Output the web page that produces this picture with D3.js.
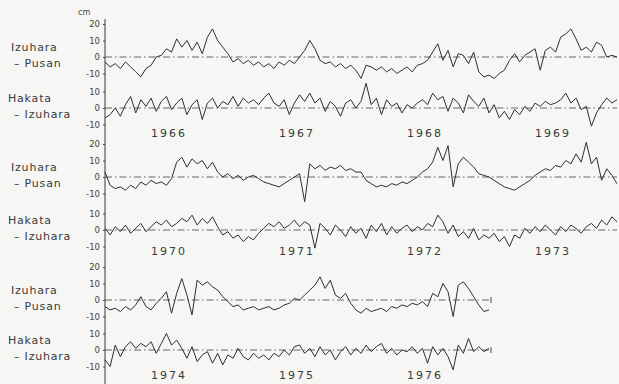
<!DOCTYPE html>
<html>
<head>
<meta charset="utf-8">
<script src="https://cdn.jsdelivr.net/npm/d3@7"></script>
<style>
  body { margin: 0; background: #f6f6f4; }
  svg { display: block; font-family: "DejaVu Sans", sans-serif; }
</style>
</head>
<body>
<div id="visualization"></div>
<script>
// Sea level differences (cm), one value every 0.04 yr
const izuPusan6669 = [
  -3,-6,-4,-7,-3,-6,-9,-12,-7,-5, 0,1,5,3,11,6,10,4,9,2,
  12,17,10,6,2,-3,-1,-4,-2,-5, -3,-6,-4,-7,-3,-5,-2,-4,0,4,
  10,5,-2,-4,-3,-6,-4,-7,-5,-8, -13,-5,-6,-8,-6,-9,-7,-10,-8,-6,
  -9,-5,-4,-2,3,8,-2,4,-6,2, 1,-4,3,-9,-12,-11,-13,-10,-8,-2,
  2,-3,1,3,5,-8,4,6,3,12, 14,17,11,4,6,3,9,7,0,1, 0
];
const hakIzu6669 = [
  -6,-4,0,-5,2,7,-3,5,1,6, -2,4,7,-1,3,6,-4,2,5,-7,
  3,6,0,4,2,7,1,6,3,5, 2,6,9,3,1,5,-4,3,8,4,
  9,3,6,-2,4,1,-5,3,5,0, 4,15,2,6,-4,5,1,3,-3,2,
  0,3,5,2,9,5,7,-2,6,3, -3,8,4,1,6,-3,2,-6,-2,-7,
  -1,-4,1,-2,3,1,4,2,3,5, 9,3,6,-1,1,-11,-3,2,6,3, 5
];
const izuPusan7073 = [
  3,-5,-7,-6,-8,-5,-7,-3,-5,-2, -4,-3,-5,-1,9,12,6,11,8,10,
  5,9,3,0,2,-1,1,-2,0,1, -1,-3,-4,-5,-6,-4,-2,0,2,-15,
  8,5,7,4,6,5,7,4,5,3, 3,-2,-4,-6,-5,-6,-4,-5,-3,-4,
  -2,0,3,5,9,18,10,19,-6,8, 12,9,6,2,1,0,-2,-4,-6,-7,
  -8,-6,-4,-2,1,3,5,4,7,6, 10,8,14,9,21,8,12,-2,5,1, -4
];
const hakIzu7073 = [
  1,-3,2,-1,3,-2,1,4,-1,2, 5,3,6,2,4,7,5,9,3,7,
  4,8,2,-3,-1,-5,-3,-7,-4,-6, -2,1,4,2,5,1,3,6,2,5,
  3,-11,4,1,-3,3,0,-4,2,-2, 1,-5,3,-1,4,-3,2,-2,1,3,
  -1,2,0,4,2,9,5,-2,3,-4, -1,-5,1,-6,-3,-5,-2,-7,-4,-10,
  -3,-5,1,-2,2,-1,3,0,-3,2, -1,3,1,-2,2,4,1,6,3,8, 5
];
const izuPusan7476 = [
  -4,-6,-5,-7,-4,-6,-3,2,-4,-6, -2,1,5,-8,4,13,3,-9,12,9,
  11,8,6,2,-1,-4,-3,-6,-5,-4, -6,-5,-4,-6,-5,-3,-2,1,0,3,
  6,9,14,7,12,3,1,4,-2,-6, -8,-5,-7,-6,-5,-7,-4,-5,-3,-4,
  -2,-3,-1,-4,4,2,10,5,-10,9, 11,7,2,-3,-7,-6
];
const hakIzu7476 = [
  -6,-10,3,-4,2,5,1,4,2,5, -2,4,10,3,6,1,-5,2,-7,-3,
  -1,-8,-2,-9,-3,-5,1,-4,-6,-2, -5,-3,-6,-2,-4,0,-3,2,3,-2,
  1,-4,2,-3,0,-6,-1,2,-3,1, -2,3,-1,2,4,-2,1,-3,0,-1,
  2,-2,1,-8,2,-3,1,-4,-12,3, -2,7,-1,2,-1,1
];

const blockStarts = [1966, 1970, 1974];
const blockYears = [
  [1966, 1967, 1968, 1969],
  [1970, 1971, 1972, 1973],
  [1974, 1975, 1976]
];
const topTicks = [20, 10, 0, -10];
const lowTicks = [10, 0, -10];
const step = 0.04;

const width = 619, height = 384;
const axisX = 105, pxPerYear = 128, pxPerCm = 1.65;

// zero line position of each pair of rows
const blocks = [
  { start: 1966, years: blockYears[0], zeros: [57, 108], series: [izuPusan6669, hakIzu6669], yearY: 137 },
  { start: 1970, years: blockYears[1], zeros: [177, 230], series: [izuPusan7073, hakIzu7073], yearY: 255 },
  { start: 1974, years: blockYears[2], zeros: [300, 350], series: [izuPusan7476, hakIzu7476], yearY: 379 }
];

const svg = d3.select("#visualization")
  .append("svg")
  .attr("width", width)
  .attr("height", height);

svg.append("rect").attr("width", width).attr("height", height).attr("fill", "#f6f6f4");

// unit
svg.append("text")
  .attr("x", 78).attr("y", 15)
  .style("font-size", "8px").attr("fill", "#444")
  .text("cm");

// the one vertical axis line
svg.append("line")
  .attr("x1", axisX).attr("x2", axisX)
  .attr("y1", 19).attr("y2", height)
  .attr("stroke", "#3a3a3a").attr("stroke-width", 1);

const rowNames = [["Izuhara", "– Pusan"], ["Hakata", "– Izuhara"]];

blocks.forEach(b => {
  const nYears = b.years.length;
  const x = d3.scaleLinear()
    .domain([b.start, b.start + 4])
    .range([axisX, axisX + 4 * pxPerYear]);
  const xEnd = x(b.start + nYears);

  b.series.forEach((vals, r) => {
    const zero = b.zeros[r];
    const y = d3.scaleLinear().domain([-10, 10]).range([zero + 10 * pxPerCm, zero - 10 * pxPerCm]);

    // tick labels
    const ax = svg.append("g")
      .attr("transform", `translate(${axisX},0)`)
      .call(d3.axisLeft(y)
        .tickValues(r === 0 ? topTicks : lowTicks)
        .tickSize(2).tickPadding(3)
        .tickFormat(d => String(d)));
    ax.select(".domain").remove();
    ax.selectAll("line").attr("stroke", "#444");
    ax.selectAll("text").style("font-size", "8.5px").style("font-family", "DejaVu Sans, sans-serif").attr("fill", "#444");

    // dash-dot zero line
    svg.append("line")
      .attr("x1", axisX).attr("x2", Math.min(xEnd, width))
      .attr("y1", y(0)).attr("y2", y(0))
      .attr("stroke", "#555").attr("stroke-width", 0.9)
      .attr("stroke-dasharray", "7,3,1.5,3");
    if (nYears < 4) {
      svg.append("line")
        .attr("x1", xEnd + 2).attr("x2", xEnd + 2)
        .attr("y1", y(0) - 3).attr("y2", y(0) + 3)
        .attr("stroke", "#444");
    }

    // the series
    const line = d3.line()
      .x((d, i) => x(b.start + i * step))
      .y(d => y(d));
    svg.append("path")
      .datum(vals)
      .attr("d", line)
      .attr("fill", "none")
      .attr("stroke", "#2e2e2e")
      .attr("stroke-width", 1)
      .attr("stroke-linejoin", "round");

    // row name
    const names = rowNames[r];
    const lbl = svg.append("text")
      .style("font-size", "11px").style("letter-spacing", "0.8px")
      .attr("fill", "#3a3a3a");
    lbl.append("tspan").attr("x", r === 0 ? 11 : 8).attr("y", zero - 6).text(names[0]);
    lbl.append("tspan").attr("x", 14).attr("y", zero + 10).text(names[1]);
  });

  // year labels, centred on each year
  svg.selectAll(null)
    .data(b.years)
    .join("text")
    .attr("x", d => x(d + 0.5))
    .attr("y", b.yearY)
    .attr("text-anchor", "middle")
    .style("font-size", "11px").style("letter-spacing", "2px")
    .attr("fill", "#3a3a3a")
    .text(d => d);
});
</script>
</body>
</html>
